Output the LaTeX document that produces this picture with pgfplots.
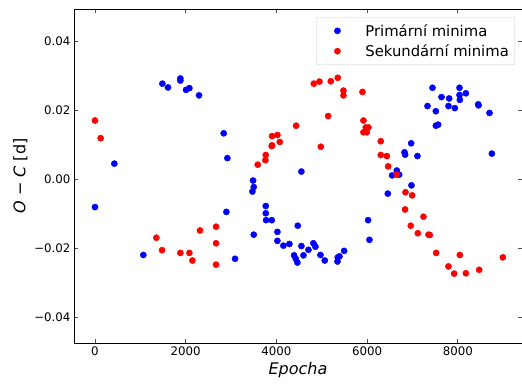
\documentclass[border=0pt]{standalone}
\usepackage{fontspec}
\setmainfont{DejaVu Sans}
\usepackage{pgfplots}
\pgfplotsset{compat=1.18}
\pgfplotsset{
  dotleg/.style={legend image code/.code={%
      \path[draw=none, fill=none] (0pt,0pt) -- (43pt,0pt);
      \draw[##1] plot[only marks] coordinates {(17pt,0pt)};}},
}
\begin{document}
\begin{tikzpicture}
\path[use as bounding box] (-74pt,-42pt) rectangle (448pt,343pt);
\begin{axis}[
  scale only axis,
  width=448pt, height=334pt,
  xmin=-463, xmax=9415,
  ymin=-0.04743, ymax=0.04946,
  scaled y ticks=false, scaled x ticks=false,
  xtick={0,2000,4000,6000,8000},
  xticklabels={0,2000,4000,6000,8000},
  ytick={-0.04,-0.02,0,0.02,0.04},
  yticklabels={−0.04,−0.02,0.00,0.02,0.04},
  tick align=inside,
  major tick length=4pt,
  xtick pos=both, ytick pos=both,
  tick style={black!70, line width=0.8pt},
  axis line style={line width=0.8pt},
  ticklabel style={font=\fontsize{11.8}{13}\selectfont},
  xlabel={\textit{Epocha}},
  ylabel={\textit{O} − \textit{C} [d]},
  label style={font=\fontsize{16}{18}\selectfont},
  dotleg,
  legend style={at={(0.9844,0.976)}, anchor=north east,
    draw=black!20, rounded corners=2pt, font=\fontsize{14.8}{17}\selectfont,
    inner xsep=4pt, inner ysep=4pt, row sep=1pt,
    nodes={inner xsep=2pt, inner ysep=3pt}},
  legend cell align=left,
]
\addlegendimage{only marks, mark=*, mark size=3.1pt, blue}
\addlegendentry{Primární minima}
\addlegendimage{only marks, mark=*, mark size=3.1pt, red}
\addlegendentry{Sekundární minima}
\addplot[forget plot, only marks, mark=*, mark size=3.1pt, blue] coordinates {
(0,-0.0080) (426,0.0046) (1066,-0.0219) (1485,0.0278) (1610,0.0267)
(1882,0.0293) (1882,0.0287) (2007,0.0260) (2081,0.0265) (2294,0.0244)
(2838,0.0134) (2919,0.0062) (2897,-0.0094) (3088,-0.0230)
(3485,-0.0003) (3471,-0.0035) (3500,-0.0022) (3500,-0.0160)
(3765,-0.0077) (3765,-0.0098) (3772,-0.0118) (3897,-0.0118)
(4022,-0.0152) (4022,-0.0178) (4154,-0.0192) (4287,-0.0187)
(4471,-0.0134) (4551,0.0023) (4551,-0.0193) (4390,-0.0220)
(4426,-0.0230) (4463,-0.0241) (4596,-0.0220) (4706,-0.0204)
(4816,-0.0185) (4860,-0.0195) (4971,-0.0219) (5066,-0.0235)
(5353,-0.0226) (5390,-0.0223) (5346,-0.0238) (5493,-0.0207)
(6022,-0.0118) (6051,-0.0175) (6456,-0.0041) (6551,0.0012)
(6654,0.0026) (6706,0.0014) (6824,0.0079) (6838,0.0072)
(6971,0.0105) (6978,-0.0017) (7110,0.0068) (7331,0.0213)
(7441,0.0266) (7515,0.0198) (7515,0.0156) (7566,0.0159)
(7640,0.0239) (7794,0.0213) (7809,0.0235) (7934,0.0207)
(8037,0.0266) (8037,0.0245) (8044,0.0231) (8177,0.0250)
(8449,0.0218) (8456,0.0215) (8699,0.0193) (8750,0.0075)
};
\addplot[forget plot, only marks, mark=*, mark size=3.1pt, red] coordinates {
(0,0.0171) (125,0.0120) (1353,-0.0169) (1478,-0.0205) (1882,-0.0213)
(2081,-0.0213) (2147,-0.0235) (2316,-0.0148) (2669,-0.0137)
(2669,-0.0185) (2669,-0.0247) (3588,0.0043) (3765,0.0071)
(3757,0.0056) (3904,0.0126) (4022,0.0129) (3897,0.0097) (3904,0.0099)
(4074,0.0109) (4434,0.0156) (4824,0.0278) (4949,0.0284) (4978,0.0095)
(5140,0.0184) (5199,0.0285) (5353,0.0295) (5478,0.0258) (5478,0.0244)
(5897,0.0254) (5919,0.0171) (5919,0.0137) (5971,0.0151) (6029,0.0151)
(5993,0.0137) (6301,0.0111) (6301,0.0071) (6434,0.0068) (6463,0.0038)
(6654,0.0014) (6846,-0.0037) (6993,-0.0046) (6838,-0.0087)
(6963,-0.0134) (7243,-0.0108) (7118,-0.0156) (7353,-0.0160)
(7382,-0.0161) (7522,-0.0213) (7794,-0.0252) (7919,-0.0273)
(8044,-0.0219) (8177,-0.0272) (8471,-0.0262) (8993,-0.0226)
};
\end{axis}
\end{tikzpicture}
\end{document}
